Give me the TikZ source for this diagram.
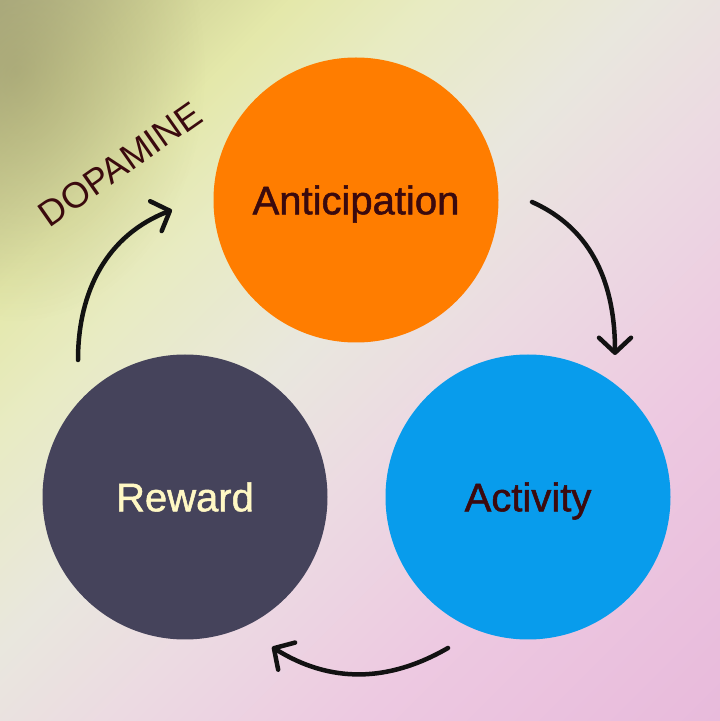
\documentclass[tikz,border=0pt]{standalone}
\usepackage{fontspec}
\setmainfont{Liberation Sans}
\newfontfamily\labelfont[FakeBold=1.3]{Liberation Sans}
\usepackage{tikz}
\usetikzlibrary{arrows.meta,positioning,fadings}
\definecolor{antorange}{HTML}{FF7D00}
\definecolor{actblue}{HTML}{089CEC}
\definecolor{rewslate}{HTML}{45435B}
\definecolor{darkmaroon}{HTML}{3B0A0E}
\definecolor{paleyellow}{HTML}{FFF8C4}
\definecolor{bgolive}{HTML}{8E8B5E}
\pgfdeclarehorizontalshading{bgwash}{100bp}{%
  color(0bp)=({rgb,255:red,184;green,184;blue,138}); color(14.6bp)=({rgb,255:red,184;green,184;blue,138});
  color(21.7bp)=({rgb,255:red,208;green,210;blue,150});
  color(28.8bp)=({rgb,255:red,228;green,232;blue,170});
  color(35.9bp)=({rgb,255:red,232;green,235;blue,195});
  color(46.5bp)=({rgb,255:red,233;green,231;blue,222});
  color(55.6bp)=({rgb,255:red,236;green,218;blue,226});
  color(67.7bp)=({rgb,255:red,237;green,201;blue,225});
  color(85.4bp)=({rgb,255:red,232;green,186;blue,219});
  color(100bp)=({rgb,255:red,232;green,186;blue,219})}
\tikzfading[name=blobfade, inner color=transparent!0, outer color=transparent!100]
\tikzset{
  ball/.style={circle, minimum size=285pt, inner sep=0pt,
    font=\labelfont\fontsize{40}{48}\selectfont, text height=28.6pt, text depth=0pt},
  cyc/.style={line width=4.5pt, line cap=round, black!93,
    -{Straight Barb[length=15pt,width=32pt,round]}}
}

\begin{document}
\begin{tikzpicture}[x=1pt,y=1pt]
  \useasboundingbox (0,0) rectangle (720,721);
  % background wash
  \shade[shading=bgwash, shading angle=-45] (0,0) rectangle (720,721);
  \begin{scope}
    \clip (0,0) rectangle (720,721);
    \fill[bgolive, opacity=0.45, path fading=blobfade] (15,650) ellipse (190 and 250);
  \end{scope}

  \node[ball, fill=antorange, text=darkmaroon] (antic) at (356,521) {Anticipation};
  \node[ball, fill=actblue, text=darkmaroon] (activ) at (528,224) {Activity};
  \node[ball, fill=rewslate, text=paleyellow] (reward) at (185,224) {Reward};

  \node[font=\fontsize{36}{43}\selectfont, text=darkmaroon, rotate=35,
    text height=25.8pt, text depth=0pt] (dopa) at (120,557) {DOPAMINE};

  \coordinate (rw-a) at (78,361);
  \coordinate (an-b) at (172,511);
  \coordinate (an-a) at (532,519);
  \coordinate (ac-b) at (615,366);
  \coordinate (ac-a) at (448,73);
  \coordinate (rw-b) at (272,74);
  \foreach \s/\e/\o/\i in {rw-a/an-b/90/201, an-a/ac-b/-24/90, ac-a/rw-b/210/-32}
    \draw[cyc] (\s) to[out=\o,in=\i] (\e);
\end{tikzpicture}
\end{document}
